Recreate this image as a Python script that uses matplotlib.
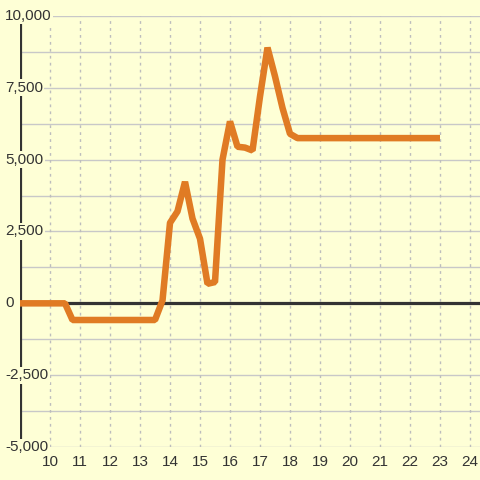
import numpy as np
import matplotlib
matplotlib.use('Agg')
import matplotlib.pyplot as plt
import matplotlib.transforms as mtransforms

# values
x = [9, 10.5, 10.75, 13.5, 13.75, 14, 14.25, 14.5, 14.75, 15, 15.25, 15.5,
     15.75, 16, 16.25, 16.5, 16.75, 17, 17.25, 17.5, 17.75, 18, 18.25, 23]
y = [0, 0, -580, -580, 100, 2800, 3200, 4230, 2950, 2250, 680, 740,
     5000, 6330, 5450, 5420, 5320, 7200, 8900, 7900, 6800, 5900, 5750, 5750]
xticks = list(range(10, 25))
yticks = [10000, 7500, 5000, 2500, 0, -2500, -5000]
ylabels = ['10,000', '7,500', '5,000', '2,500', '0', '-2,500', '-5,000']

bg = '#FEFFD6'
ink = '#333333'
plt.rcParams['font.family'] = ['Liberation Sans', 'DejaVu Sans']

fig = plt.figure(figsize=(4.8, 4.8), dpi=100, facecolor=bg)
ax = fig.add_axes([20/480, 33/480, 460/480, 431/480], facecolor=bg)
ax.set_xlim(9, 9 + 460/30)
ax.set_ylim(-5000, 10000)
for s in ax.spines.values():
    s.set_visible(False)

# grid
for v in np.arange(-5000, 10001, 1250):
    ax.axhline(v, color='#C8C8C8', lw=1, zorder=1)
for v in xticks:
    ax.axvline(v, color='#BDBDBD', lw=1, ls=(0, (2, 3)), zorder=1)

ax.axvline(9, color=ink, lw=2.3, zorder=2)
ax.axhline(0, color=ink, lw=2.3, zorder=2)

ax.plot(x, y, color='#E07B24', lw=4.7, solid_joinstyle='bevel',
        solid_capstyle='butt', zorder=3)

ax.set_xticks(xticks)
ax.set_xticklabels([str(t) for t in xticks])
ax.set_yticks([])
ax.tick_params(axis='x', length=0, pad=6, labelsize=11, labelcolor=ink)

tr = mtransforms.blended_transform_factory(ax.transAxes, ax.transData)
for v, lab in zip(yticks, ylabels):
    ax.text(-15/460, v, lab, transform=tr, ha='left', va='center',
            fontsize=11, color=ink, zorder=5, clip_on=False,
            bbox=dict(facecolor=bg, edgecolor='none', pad=1))

fig.savefig('out.png', dpi=100, facecolor=bg)
